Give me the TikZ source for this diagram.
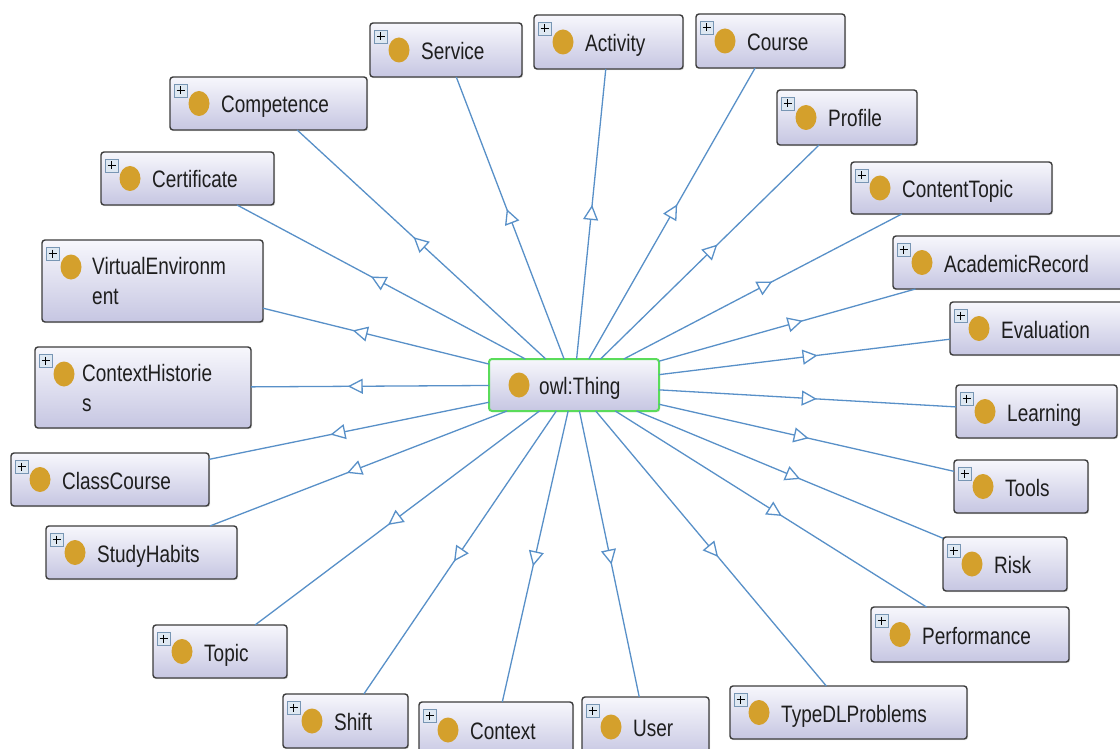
\documentclass[tikz,border=0pt]{standalone}
\usepackage{fontspec}
\setmainfont{Liberation Sans}
\usetikzlibrary{arrows.meta,decorations.markings,shadows}
\definecolor{edgecol}{RGB}{88,144,200}
\definecolor{gold}{RGB}{212,160,44}
\definecolor{boxtop}{RGB}{247,247,252}
\definecolor{boxbot}{RGB}{198,198,226}
\definecolor{boxline}{RGB}{60,60,60}
\definecolor{txt}{RGB}{30,30,30}
\definecolor{plusfill}{RGB}{222,232,242}
\definecolor{plusline}{RGB}{120,150,180}
\definecolor{thingline}{RGB}{90,220,90}
\tikzset{
 clsnode/.style={rectangle, rounded corners=3pt, draw=boxline, line width=1.4pt, top color=boxtop, bottom color=boxbot, inner sep=0pt, outer sep=0pt, drop shadow={shadow xshift=1.2pt, shadow yshift=-1.2pt, opacity=0.25}},
 thingnode/.style={clsnode, draw=thingline, line width=2pt},
 clstext/.style={anchor=base west, inner sep=0pt, text=txt, font=\fontsize{19}{23}\selectfont},
 linkline/.style={draw=edgecol, line width=1.3pt},
 midarrow/.style={edgecol, line width=1.3pt, postaction={decorate}, decoration={markings, mark=at position 0.525 with {\arrow{Triangle[open, fill=white, length=15pt, width=15pt]}}}},
 plusbox/.style={fill=plusfill, draw=plusline, line width=0.8pt},
 dot/.style={fill=gold},
}
\newcommand\clsone[6]{%
 \node[clsnode, minimum width={#4-#2}, minimum height={#5-#3}] (#1) at ({(#2+#4)/2},{(#3+#5)/2}) {};
 \draw[plusbox] ({#2+4},{#3+7}) rectangle ({#2+17},{#3+20});
 \draw[line width=1.1pt] ({#2+6.5},{#3+13.5}) -- ({#2+14.5},{#3+13.5}) ({#2+10.5},{#3+9.5}) -- ({#2+10.5},{#3+17.5});
 \fill[dot] ({#2+29},{(#3+#5)/2}) ellipse [x radius=10.5, y radius=12.5];
 \node[clstext] (#1t) at ({#2+51},{(#3+#5)/2+9.5}) {\scalebox{1}[1.25]{#6}};
}
\newcommand\clstwo[8]{%
 \node[clsnode, minimum width={#4-#2}, minimum height={#5-#3}] (#1) at ({(#2+#4)/2},{(#3+#5)/2}) {};
 \draw[plusbox] ({#2+4},{#3+7}) rectangle ({#2+17},{#3+20});
 \draw[line width=1.1pt] ({#2+6.5},{#3+13.5}) -- ({#2+14.5},{#3+13.5}) ({#2+10.5},{#3+9.5}) -- ({#2+10.5},{#3+17.5});
 \fill[dot] ({#2+29},{#3+27}) ellipse [x radius=10.5, y radius=12.5];
 \node[clstext] (#1t) at ({#2+#8},{#3+34}) {\scalebox{1}[1.25]{#6}};
 \node[clstext] (#1u) at ({#2+#8},{#3+64}) {\scalebox{1}[1.25]{#7}};
}
\begin{document}
\begin{tikzpicture}[x=1pt,y=-1pt]
\useasboundingbox[fill=white] (0,0) rectangle (1120,749);
\clip (0,0) rectangle (1120,749);
% central node
\node[thingnode, minimum width=170, minimum height=52] (thing) at (574,385) {};
\fill[dot] (519,385) ellipse [x radius=10.5, y radius=12.5];
\node[clstext] (thingt) at (539,394.5) {\scalebox{1}[1.25]{owl:Thing}};
% class nodes
\clsone{service}{370}{23}{522}{77}{Service}
\clsone{activity}{534}{15}{683}{69}{Activity}
\clsone{course}{696}{14}{845}{68}{Course}
\clsone{competence}{170}{77}{367}{130}{Competence}
\clsone{profile}{777}{90}{917}{145}{Profile}
\clsone{certificate}{101}{152}{274}{205}{Certificate}
\clsone{contenttopic}{851}{162}{1052}{214}{ContentTopic}
\clstwo{virtenv}{42}{240}{263}{322}{VirtualEnvironm}{ent}{50}
\clsone{academic}{893}{236}{1126}{289}{AcademicRecord}
\clsone{evaluation}{950}{302}{1126}{355}{Evaluation}
\clstwo{ctxhist}{35}{347}{251}{428}{ContextHistorie}{s}{47}
\clsone{learning}{956}{385}{1117}{438}{Learning}
\clsone{classcourse}{11}{453}{209}{506}{ClassCourse}
\clsone{tools}{954}{460}{1088}{513}{Tools}
\clsone{studyhabits}{46}{526}{237}{579}{StudyHabits}
\clsone{risk}{943}{537}{1067}{591}{Risk}
\clsone{topic}{153}{625}{287}{678}{Topic}
\clsone{performance}{871}{607}{1069}{662}{Performance}
\clsone{typedl}{730}{686}{967}{739}{TypeDLProblems}
\clsone{shift}{283}{694}{408}{748}{Shift}
\clsone{context}{419}{702}{573}{758}{Context}
\clsone{user}{582}{697}{709}{757}{User}
% connectors
\foreach \n in {service,activity,course,competence,profile,certificate,contenttopic,virtenv,academic,evaluation,ctxhist,learning,classcourse,tools,studyhabits,risk,topic,performance,typedl,shift,context,user}{
  \draw[linkline] (thing) -- (\n);
  \path[midarrow] (thing.center) -- (\n.center);
}
\end{tikzpicture}
\end{document}
